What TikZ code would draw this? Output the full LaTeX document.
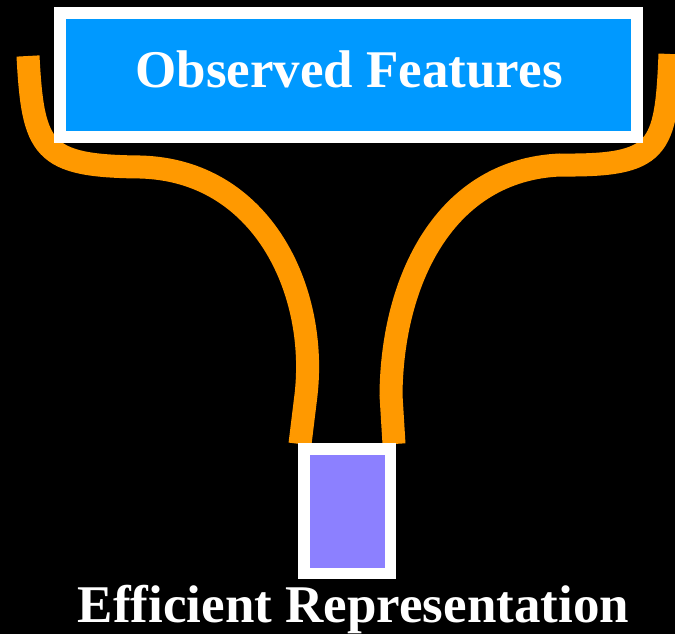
\documentclass[tikz,border=0pt]{standalone}
\usepackage{fontspec}
\setmainfont{Liberation Serif}
\definecolor{bluefill}{RGB}{0,153,255}
\definecolor{orangeline}{RGB}{255,153,0}
\definecolor{purplefill}{RGB}{140,128,255}
\begin{document}
\begin{tikzpicture}[x=1pt,y=-1pt,
  bigbox/.style={draw=white,line width=12pt,fill=bluefill,inner sep=0pt,minimum width=577pt,minimum height=124pt},
  smallbox/.style={draw=white,line width=11.5pt,fill=purplefill,inner sep=0pt,minimum width=86.5pt,minimum height=124.5pt},
  label/.style={text=white,font=\bfseries\fontsize{53}{60}\selectfont,inner sep=0pt,anchor=base},
  tube/.style={draw=orangeline,line width=23pt}]
\fill[black] (0,0) rectangle (675,634);
\useasboundingbox (0,0) rectangle (675,634);
\coordinate (lt) at (28,56);
\coordinate (rt) at (670,54);
\coordinate (lb) at (300,444);
\coordinate (rb) at (394,444);
\draw[tube] (lt) .. controls (33,150) and (42,166) .. (140,167)
  .. controls (262,170) and (318,290) .. (306,395) -- (lb);
\draw[tube] (rt) .. controls (666,150) and (660,166) .. (560,165)
  .. controls (445,170) and (392,280) .. (391,395) -- (rb);
\node[bigbox] (obs) at (348.5,75) {};
\node[label] (obstext) at (349,88) {Observed Features};
\node[smallbox] (rep) at (347,511) {};
\node[label] (reptext) at (353.5,622) {Efficient Representation};
\end{tikzpicture}
\end{document}
